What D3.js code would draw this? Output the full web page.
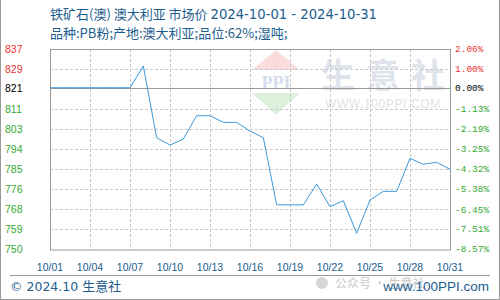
<!DOCTYPE html>
<html><head><meta charset="utf-8">
<script src="https://cdn.jsdelivr.net/npm/d3@7/dist/d3.min.js"></script>
<style>
html,body{margin:0;padding:0;background:#fff;}
svg{display:block;}
</style>
</head><body>
<svg id="c" width="500" height="300"></svg>
<script>
const titleCn = "铁矿石(澳) 澳大利亚 市场价 ";
const titleDates = "2024-10-01 - 2024-10-31";
const titleLine2 = "品种:PB粉;产地:澳大利亚;品位:62%;湿吨;";
const footerLeftA = "© 2024.10 ";
const footerLeftB = "生意社";
const footerRight = "www.100PPI.com";
const basePrice = 821;
const days = [1,2,3,4,5,6,7,8,9,10,11,12,13,14,15,16,17,18,19,20,21,22,23,24,25,26,27,28,29,30,31];
const prices = [821,821,821,821,821,821,821,830.5,799.2,796.0,798.6,808.8,808.8,805.9,805.9,802.1,799.2,769.9,769.9,769.9,779.0,769.1,771.7,757.5,772.0,775.8,775.8,790.2,787.6,788.5,785.4];
const pctTicks = [2.06,1.00,0.00,-1.13,-2.19,-3.25,-4.32,-5.38,-6.45,-7.51,-8.57];
const priceTickLabels = ["837","829","821","811","803","794","785","776","768","759","750"];
const pctTickLabels = ["2.06%","1.00%","0.00%","-1.13%","-2.19%","-3.25%","-4.32%","-5.38%","-6.45%","-7.51%","-8.57%"];
const xTickDays = [1,4,7,10,13,16,19,22,25,28,31];
const xTickLabels = ["10/01","10/04","10/07","10/10","10/13","10/16","10/19","10/22","10/25","10/28","10/31"];

const svg = d3.select("#c");
const L=50,R=450,T=49,B=249;
const x = d3.scaleLinear().domain([1,31]).range([L,R]);
const pctToPrice = p => basePrice*(1+p/100);
const y = d3.scaleLinear().domain([pctToPrice(-8.57), pctToPrice(2.06)]).range([B,T]);

const blue = "#1c5d8e";
// outer frame
svg.append("line").attr("x1",0.5).attr("x2",0.5).attr("y1",0).attr("y2",300).attr("stroke","#999");
svg.append("line").attr("x1",499.5).attr("x2",499.5).attr("y1",0).attr("y2",300).attr("stroke","#999");
svg.append("line").attr("x1",0).attr("x2",500).attr("y1",299.5).attr("y2",299.5).attr("stroke","#999");

// titles
const t1 = svg.append("text").attr("x",50).attr("y",19).attr("fill",blue)
  .style("font-family","'Noto Sans CJK SC',sans-serif").style("font-size","13px");
t1.append("tspan").text(titleCn);
t1.append("tspan").style("font-family","'DejaVu Sans',sans-serif").style("font-size","13.2px").text(titleDates);
svg.append("text").attr("x",50).attr("y",38).attr("fill",blue)
  .style("font-family","'Noto Sans CJK SC',sans-serif").style("font-size","13px").text(titleLine2);

// watermark (clipped to plot)
svg.append("clipPath").attr("id","pc").append("rect").attr("x",L).attr("y",T).attr("width",R-L).attr("height",B-T);
const wm = svg.append("g").attr("clip-path","url(#pc)");
wm.append("path").attr("d","M252,70 L276,50 L300,70 Z").attr("fill","#fadcdc");
wm.append("path").attr("d","M252,93 L276,115 L300,93 Z").attr("fill","#dcf0dc");
wm.append("text").attr("x",276).attr("y",89).attr("text-anchor","middle").attr("fill","#d5dcec")
  .style("font-family","'Liberation Serif',serif").style("font-weight","bold").style("font-size","18px").text("PPI");
const wmChars = ["生","意","社"];
wm.selectAll("text.wc").data(wmChars).join("text").attr("class","wc")
  .attr("x",(d,i)=>338+i*45).attr("y",88).attr("text-anchor","middle").attr("fill","#dfe3ec")
  .style("font-family","'Noto Sans CJK SC',sans-serif").style("font-weight","bold").style("font-size","34px").text(d=>d);
wm.append("text").attr("x",325).attr("y",108).attr("fill","#e2e2e2")
  .style("font-family","'Liberation Sans',sans-serif").style("font-size","12px").style("letter-spacing","0.6px").text("WWW.100PPI.COM");

// grid
const grid = svg.append("g");
grid.selectAll("line.h").data(pctTicks.filter(p=>p!==0 && p!==2.06 && p!==-8.57)).join("line").attr("class","h")
  .attr("x1",L).attr("x2",R).attr("y1",d=>Math.round(y(pctToPrice(d)))+0.5).attr("y2",d=>Math.round(y(pctToPrice(d)))+0.5)
  .attr("stroke","#c8c8c8").attr("stroke-dasharray","3,2");
grid.selectAll("line.v").data(xTickDays.slice(1,-1)).join("line").attr("class","v")
  .attr("x1",d=>Math.round(x(d))+0.5).attr("x2",d=>Math.round(x(d))+0.5).attr("y1",T).attr("y2",B+1)
  .attr("stroke","#c8c8c8").attr("stroke-dasharray","3,2");

// plot border
svg.append("rect").attr("x",L+0.5).attr("y",T+0.5).attr("width",R-L).attr("height",B-T+0.5)
  .attr("fill","none").attr("stroke","#999");
// base line
svg.append("line").attr("x1",L).attr("x2",R).attr("y1",Math.round(y(basePrice))+0.5).attr("y2",Math.round(y(basePrice))+0.5)
  .attr("stroke","#999");

// line
svg.append("path").datum(days.map((d,i)=>[d,prices[i]]))
  .attr("d",d3.line().x(d=>x(d[0])).y(d=>y(d[1])))
  .attr("fill","none").attr("stroke","#3a98d8").attr("stroke-width",1);

// left labels
const colorFor = p => p>0 ? "#ee3333" : (p===0 ? "#000" : "#33aa33");
svg.selectAll("text.yl").data(pctTicks).join("text").attr("class","yl")
  .attr("x",5).attr("y",d=>y(pctToPrice(d))).attr("dy","0.36em")
  .attr("fill",d=>colorFor(d))
  .style("font-family","'Liberation Sans',sans-serif").style("font-size","10.5px")
  .text((d,i)=>priceTickLabels[i]);
// right labels
svg.selectAll("text.yr").data(pctTicks).join("text").attr("class","yr")
  .attr("x",455).attr("y",d=>y(pctToPrice(d))).attr("dy","0.36em")
  .attr("fill",d=>colorFor(d))
  .style("font-family","'Liberation Mono',monospace").style("font-size","9.5px")
  .text((d,i)=>pctTickLabels[i]);
// x labels
svg.selectAll("text.xl").data(xTickDays).join("text").attr("class","xl")
  .attr("x",d=>x(d)).attr("y",271).attr("text-anchor","middle").attr("fill",blue)
  .style("font-family","'Liberation Sans',sans-serif").style("font-size","10.5px")
  .text((d,i)=>xTickLabels[i]);

// separator
svg.append("line").attr("x1",10).attr("x2",490).attr("y1",275.5).attr("y2",275.5).attr("stroke","#999");
// wechat watermark
svg.append("text").attr("x",335).attr("y",288).attr("fill","#bbbbbb").attr("opacity",0.8)
  .style("font-family","'Noto Sans CJK SC',sans-serif").style("font-size","12px").text("公众号 · 生意社");
svg.append("circle").attr("cx",322).attr("cy",283).attr("r",6).attr("fill","#bbbbbb").attr("opacity",0.6);
// footers
const fl = svg.append("text").attr("x",10).attr("y",291).attr("fill",blue)
  .style("font-family","'Noto Sans CJK SC',sans-serif").style("font-size","13px");
fl.append("tspan").style("font-family","'DejaVu Sans',sans-serif").style("font-size","12.5px").text(footerLeftA);
fl.append("tspan").text(footerLeftB);
svg.append("text").attr("x",489).attr("y",291).attr("text-anchor","end").attr("fill",blue)
  .style("font-family","'Liberation Sans',sans-serif").style("font-size","13.5px").text(footerRight);
</script>
</body></html>
